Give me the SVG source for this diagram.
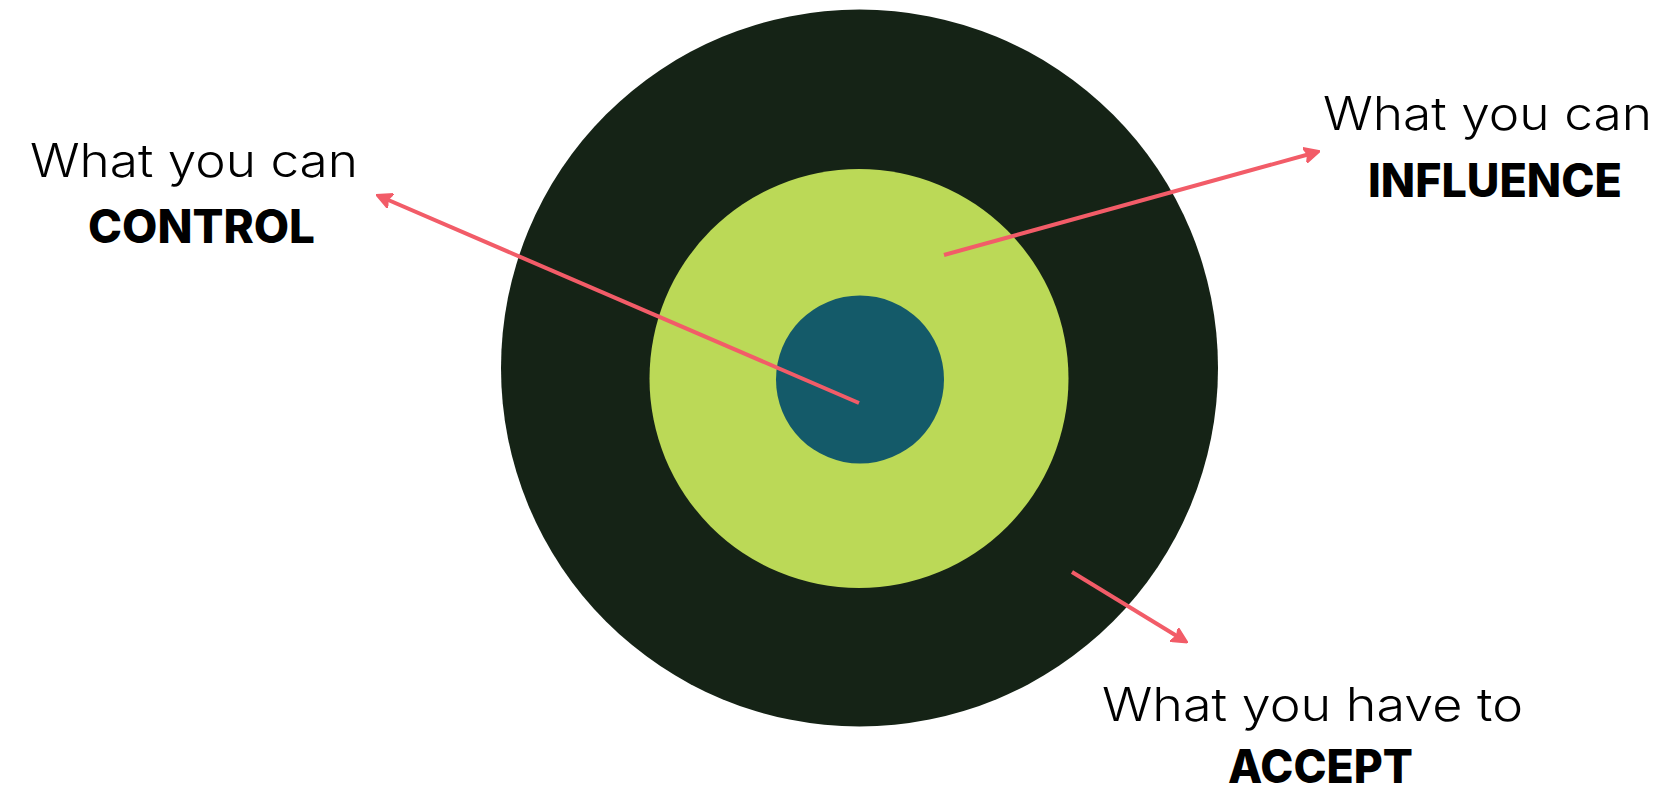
<svg xmlns="http://www.w3.org/2000/svg" width="1667" height="793" viewBox="0 0 1667 793">
<defs>
<style>
.lbl{font-family:Inter,"Open Sans","Liberation Sans",sans-serif;font-size:46px;fill:#000;text-anchor:middle}
.reg{font-weight:350}
.bold{font-weight:800}
.arrow{stroke:#F25C68;stroke-width:4;fill:none;marker-end:url(#ah)}
</style>
<marker id="ah" viewBox="0 0 10 10" refX="8" refY="5" markerWidth="4" markerHeight="4" orient="auto" markerUnits="strokeWidth">
<path d="M0,0 L10,5 L0,10 L2,5 Z" fill="#F25C68" stroke="#F25C68" stroke-linejoin="round"/>
</marker>
</defs>
<rect width="1667" height="793" fill="#fff"/>
<g id="outer-circle"><circle cx="859.5" cy="368" r="358.5" fill="#152316"/></g>
<g id="middle-circle"><circle cx="859" cy="378.5" r="209.5" fill="#BBD957"/></g>
<g id="inner-circle"><circle cx="860" cy="379.5" r="84" fill="#145A69"/></g>
<g id="connectors">
<line class="arrow" x1="859" y1="403" x2="379" y2="196"/>
<line class="arrow" x1="944" y1="255" x2="1317" y2="152"/>
<line class="arrow" x1="1072" y1="572" x2="1185" y2="641"/>
</g>
<g id="label-control">
<text class="lbl reg" x="194" y="177" textLength="328" lengthAdjust="spacingAndGlyphs">What you can</text>
<text class="lbl bold" x="201.5" y="243" textLength="227" lengthAdjust="spacingAndGlyphs">CONTROL</text>
</g>
<g id="label-influence">
<text class="lbl reg" x="1487.5" y="130" textLength="329" lengthAdjust="spacingAndGlyphs">What you can</text>
<text class="lbl bold" x="1495" y="197" textLength="254" lengthAdjust="spacingAndGlyphs">INFLUENCE</text>
</g>
<g id="label-accept">
<text class="lbl reg" x="1312.5" y="721" textLength="421" lengthAdjust="spacingAndGlyphs">What you have to</text>
<text class="lbl bold" x="1320.5" y="783" textLength="185" lengthAdjust="spacingAndGlyphs">ACCEPT</text>
</g>
</svg>
